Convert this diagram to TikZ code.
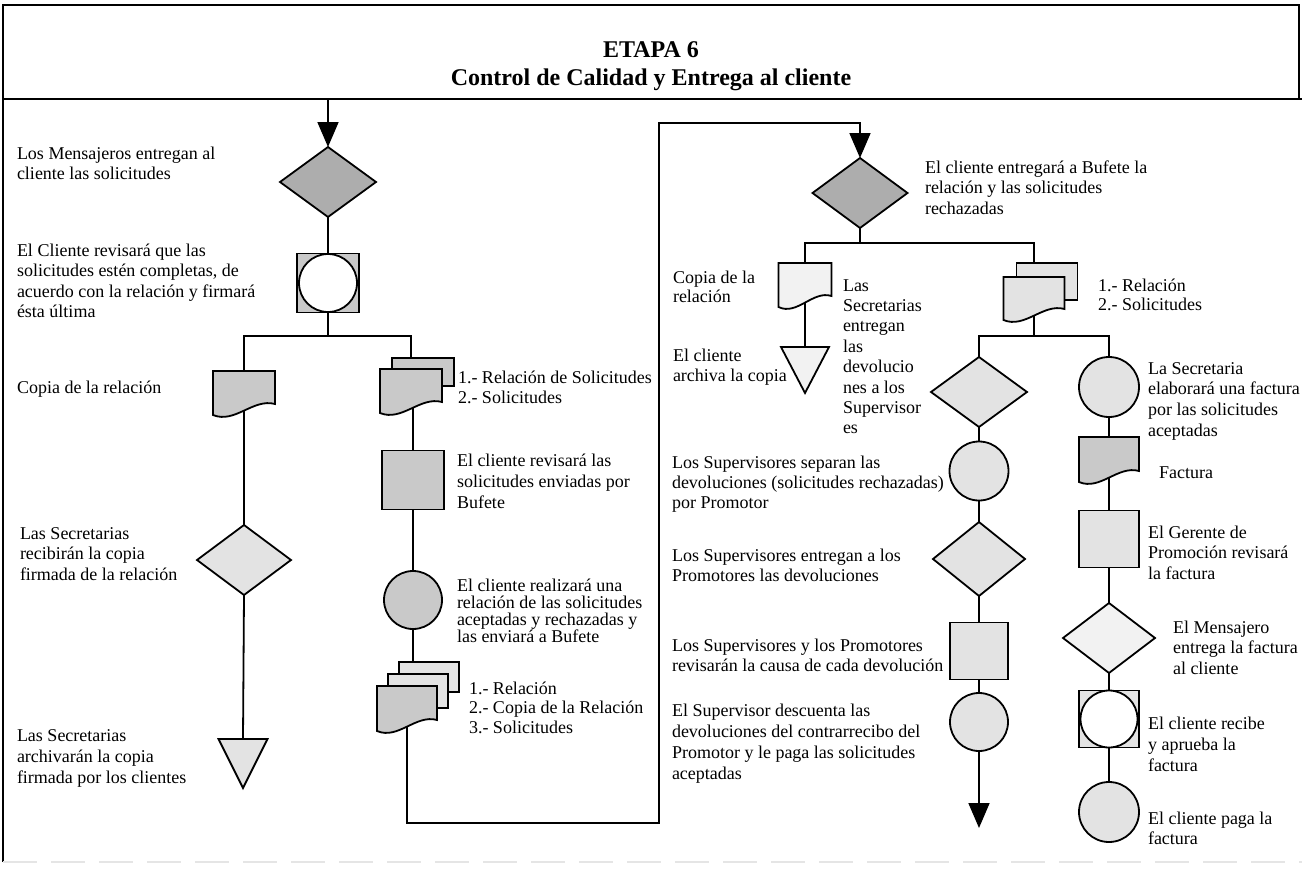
\documentclass[tikz,border=0pt]{standalone}
\usepackage{fontspec}
\setmainfont{Liberation Serif}
\usetikzlibrary{shapes.geometric,arrows.meta,calc}
\pgfdeclarelayer{bg}
\pgfsetlayers{bg,main}

% flowchart document symbol drawn over an invisible box node
\newcommand{\drawdoc}[2]{%
  \draw[outl,fill=#2] (#1.north west) -- (#1.north east)
    -- ($(#1.south east)+(0,-6)$)
    .. controls ($(#1.south west)!0.65!(#1.south east)+(0,-12)$)
           and ($(#1.south west)!0.35!(#1.south east)+(0,14)$)
    .. ($(#1.south west)+(0,5)$) -- cycle;}
% downward triangle (file symbol) drawn over an invisible box node
\newcommand{\drawfile}[2]{%
  \draw[outl,fill=#2] (#1.north west) -- (#1.north east) -- (#1.south) -- cycle;}
\newcommand{\firstline}{\rule{0pt}{14pt}}

\colorlet{fdark}{black!32}
\colorlet{fmid}{black!21}
\colorlet{flight}{black!11}
\colorlet{ffaint}{black!5}

\begin{document}
\begin{tikzpicture}[x=1pt,y=-1pt,
  outl/.style={draw=black,line width=1.8pt,line join=miter},
  shp/.style={outl,inner sep=0pt,outer sep=0pt},
  box/.style={draw=none,inner sep=0pt,outer sep=0pt},
  dia/.style={shp,diamond},
  conn/.style={line width=1.8pt},
  arr/.style={conn,-{Triangle[width=21pt,length=25pt]}},
  lbl/.style={anchor=north west,inner sep=0pt,outer sep=0pt,align=left,
              font=\fontsize{18}{20.5}\selectfont},
  frame/.style={line width=2.4pt}]

\useasboundingbox (0,0) rectangle (1302,870);

% ---------- frame and heading ----------
\coordinate (ftl) at (3,5);
\coordinate (ftr) at (1299,5);
\coordinate (hbr) at (1299,99);
\coordinate (hbl) at (3,99);
\coordinate (hbe) at (1302,99);
\coordinate (fbl) at (3,862);
\coordinate (fbr) at (1302,862);
\draw[frame] (fbl) -- (ftl) -- (ftr) -- (hbr);
\draw[frame] (hbl) -- (hbe);
\draw[black!10,line width=2pt,dash pattern=on 34pt off 14pt] (fbl) -- (fbr);
\node[font=\bfseries\fontsize{24}{28}\selectfont,align=center] (title) at (651,66)
  {ETAPA 6\\Control de Calidad y Entrega al cliente};

% ---------- first column ----------
\coordinate (inA) at (328,99);
\node[dia,fill=fdark,minimum width=96pt,minimum height=70pt] (dA1) at (328,182) {};
\node[shp,rectangle,fill=fmid,minimum width=62pt,minimum height=59pt] (scA) at (328,283) {};
\node[shp,circle,fill=white,minimum size=58pt] (scAc) at (328,283) {};
\coordinate (brA) at (328,336);

\node[box,minimum width=62pt,minimum height=39pt] (docA) at (244,390.5) {};
\drawdoc{docA}{fmid}
\node[dia,fill=flight,minimum width=94pt,minimum height=70pt] (dA2) at (244,560) {};
\node[box,minimum width=49pt,minimum height=49pt] (triA) at (243,763.5) {};
\drawfile{triA}{flight}

% ---------- second column ----------
\node[shp,rectangle,fill=fmid,minimum width=62pt,minimum height=28pt] (docA2b) at (423,372) {};
\node[box,minimum width=62pt,minimum height=39pt] (docA2) at (411,388.5) {};
\drawdoc{docA2}{fmid}
\node[shp,rectangle,fill=fmid,minimum width=62pt,minimum height=59pt] (sqB) at (413,480) {};
\node[shp,circle,fill=fmid,minimum size=58pt] (ciB) at (413,600) {};
\node[shp,rectangle,fill=flight,minimum width=60pt,minimum height=30pt] (docB3b) at (429,677) {};
\node[shp,rectangle,fill=flight,minimum width=60pt,minimum height=34pt] (docB3m) at (418,691) {};
\node[box,minimum width=60pt,minimum height=40pt] (docB3) at (407,706) {};
\drawdoc{docB3}{fmid}
\coordinate (loopR) at (659,823);
\coordinate (loopT) at (659,123);

% ---------- third column ----------
\node[dia,fill=fdark,minimum width=95pt,minimum height=70pt] (dC) at (860,193) {};
\coordinate (brC) at (860,243);
\node[box,minimum width=53pt,minimum height=39pt] (docC) at (805,282.5) {};
\drawdoc{docC}{ffaint}
\node[box,minimum width=48pt,minimum height=46pt] (triC) at (805,370) {};
\drawfile{triC}{ffaint}
\node[shp,rectangle,fill=flight,minimum width=61pt,minimum height=37pt] (docC2b) at (1047,281.5) {};
\node[box,minimum width=61pt,minimum height=38pt] (docC2) at (1034,296) {};
\drawdoc{docC2}{flight}
\coordinate (brD) at (1034,336);

% ---------- fourth column ----------
\node[dia,fill=flight,minimum width=96pt,minimum height=70pt] (dD1) at (979,392) {};
\node[shp,circle,fill=flight,minimum size=59pt] (ciD1) at (979,471) {};
\node[dia,fill=flight,minimum width=92pt,minimum height=74pt] (dD2) at (979,559) {};
\node[shp,rectangle,fill=flight,minimum width=58pt,minimum height=57pt] (sqD) at (979,651) {};
\node[shp,circle,fill=flight,minimum size=58pt] (ciD2) at (979,722) {};
\coordinate (endD) at (979,828);

% ---------- fifth column ----------
\node[shp,circle,fill=flight,minimum size=60pt] (ciE1) at (1109,387) {};
\node[box,minimum width=60pt,minimum height=40pt] (docE) at (1109,457) {};
\drawdoc{docE}{fmid}
\node[shp,rectangle,fill=flight,minimum width=60pt,minimum height=57pt] (sqE) at (1109,539) {};
\node[dia,fill=ffaint,minimum width=92pt,minimum height=70pt] (dE) at (1109,638) {};
\node[shp,rectangle,fill=flight,minimum width=60pt,minimum height=57pt] (scE) at (1109,719) {};
\node[shp,circle,fill=white,minimum size=57pt] (scEc) at (1109,719) {};
\node[shp,circle,fill=flight,minimum size=60pt] (ciE2) at (1109,812) {};

% ---------- connectors ----------
\begin{pgfonlayer}{bg}
  \draw[arr] (inA) -- (dA1.north);
  \draw[conn] (dA1.south) -- (scA.north);
  \draw[conn] (scA.south) -- (brA);
  \draw[conn] (docA.north) |- (brA) -| (docA2.north);
  \draw[conn] (docA.south) -- (dA2.north);
  \draw[conn] (dA2.south) -- (triA.north);
  \draw[conn] (docA2.south) -- (docA2.south -| sqB.north) -- (sqB.north);
  \draw[conn] (sqB.south) -- (ciB.north);
  \draw[conn] (ciB.south) -- (ciB.south |- docB3.north);
  \draw[arr] (docB3.south) |- (loopR) -- (loopT) -| (dC.north);
  \draw[conn] (dC.south) -- (brC);
  \draw[conn] (docC.north) |- (brC) -| (docC2.north);
  \draw[conn] (docC.south) -- (triC.north);
  \draw[conn] (docC2.south) -- (brD);
  \draw[conn] (dD1.north) |- (brD) -| (ciE1.north);
  \draw[conn] (dD1.south) -- (ciD1.north);
  \draw[conn] (ciD1.south) -- (dD2.north);
  \draw[conn] (dD2.south) -- (sqD.north);
  \draw[conn] (sqD.south) -- (ciD2.north);
  \draw[arr] (ciD2.south) -- (endD);
  \draw[conn] (ciE1.south) -- (docE.north);
  \draw[conn] (docE.south) -- (sqE.north);
  \draw[conn] (sqE.south) -- (dE.north);
  \draw[conn] (dE.south) -- (scE.north);
  \draw[conn] (scE.south) -- (ciE2.north);
\end{pgfonlayer}

% ---------- texts ----------
\node[lbl] (t1) at (17,145) {\firstline Los Mensajeros entregan al\\cliente las solicitudes};
\node[lbl] (t2) at (17,242) {\firstline El Cliente revisará que las\\solicitudes estén completas, de\\acuerdo con la relación y firmará\\ésta última};
\node[lbl] (t3) at (17,379) {\firstline Copia de la relación};
\node[lbl] (t4) at (20,525) {\firstline Las Secretarias\\recibirán la copia\\firmada de la relación};
\node[lbl,font=\fontsize{18}{21}\selectfont] (t5) at (17,727) {\firstline Las Secretarias\\archivarán la copia\\firmada por los clientes};
\node[lbl,font=\fontsize{18}{20}\selectfont] (t6) at (458,369) {\firstline 1.- Relación de Solicitudes\\2.- Solicitudes};
\node[lbl,font=\fontsize{18}{21}\selectfont] (t7) at (457,452) {\firstline El cliente revisará las\\solicitudes enviadas por\\Bufete};
\node[lbl,font=\fontsize{18}{17.3}\selectfont] (t8) at (457,577) {\firstline El cliente realizará una\\relación de las solicitudes\\aceptadas y rechazadas y\\las enviará a Bufete};
\node[lbl,font=\fontsize{18}{19.5}\selectfont] (t9) at (469,680) {\firstline 1.- Relación\\2.- Copia de la Relación\\3.- Solicitudes};
\node[lbl,font=\fontsize{18}{19}\selectfont] (t10) at (673,269) {\firstline Copia de la\\relación};
\node[lbl,font=\fontsize{18}{20}\selectfont] (t11) at (673,347) {\firstline El cliente\\archiva la copia};
\node[lbl,font=\fontsize{18}{20.4}\selectfont] (t12) at (843,277) {\firstline Las\\Secretarias\\entregan\\las\\devolucio\\nes a los\\Supervisor\\es};
\node[lbl] (t13) at (925,159) {\firstline El cliente entregará a Bufete la\\relación y las solicitudes\\rechazadas};
\node[lbl,font=\fontsize{18}{19}\selectfont] (t14) at (1098,277) {\firstline 1.- Relación\\2.- Solicitudes};
\node[lbl,font=\fontsize{18}{20.7}\selectfont] (t15) at (1148,360) {\firstline La Secretaria\\elaborará una factura\\por las solicitudes\\aceptadas};
\node[lbl,font=\fontsize{18}{20}\selectfont] (t16) at (672,454) {\firstline Los Supervisores separan las\\devoluciones (solicitudes rechazadas)\\por Promotor};
\node[lbl,font=\fontsize{18}{20}\selectfont] (t17) at (672,547) {\firstline Los Supervisores entregan a los\\Promotores las devoluciones};
\node[lbl,font=\fontsize{18}{20}\selectfont] (t18) at (672,637) {\firstline Los Supervisores y los Promotores\\revisarán la causa de cada devolución};
\node[lbl,font=\fontsize{18}{21}\selectfont] (t19) at (672,702) {\firstline El Supervisor descuenta las\\devoluciones del contrarrecibo del\\Promotor y le paga las solicitudes\\aceptadas};
\node[lbl] (t20) at (1159,464) {\firstline Factura};
\node[lbl] (t21) at (1148,524) {\firstline El Gerente de\\Promoción revisará\\la factura};
\node[lbl] (t22) at (1173,619) {\firstline El Mensajero\\entrega la factura\\al cliente};
\node[lbl,font=\fontsize{18}{21}\selectfont] (t23) at (1148,715) {\firstline El cliente recibe\\y aprueba la\\factura};
\node[lbl,font=\fontsize{18}{20}\selectfont] (t24) at (1148,810) {\firstline El cliente paga la\\factura};

\end{tikzpicture}
\end{document}
